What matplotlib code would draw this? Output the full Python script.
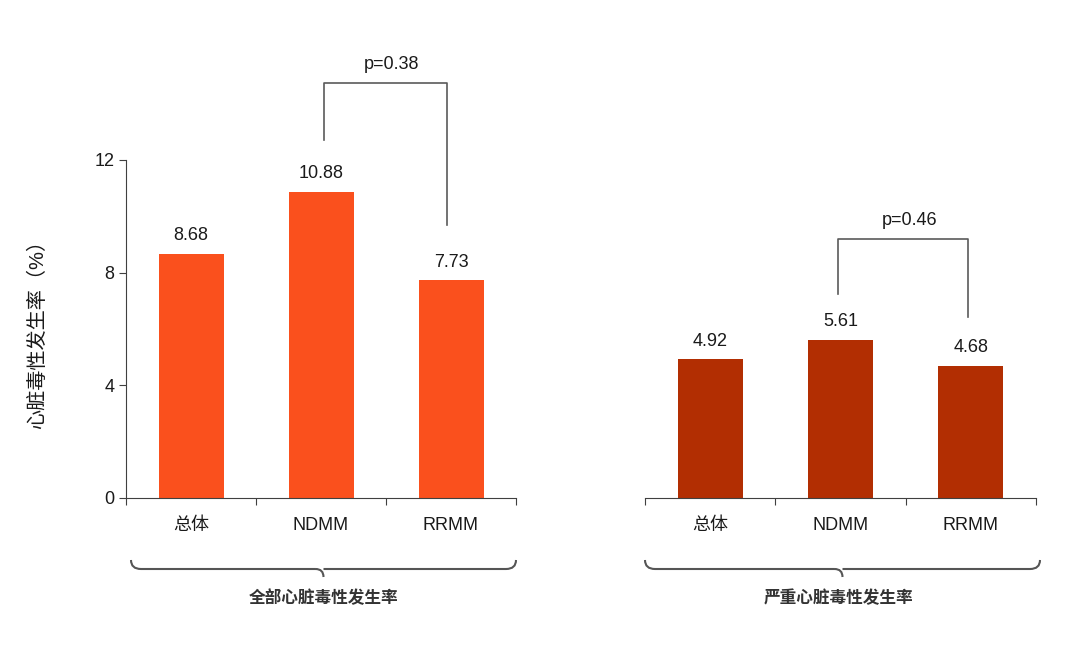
import matplotlib
matplotlib.use("Agg")
import matplotlib.pyplot as plt
from matplotlib.path import Path
from matplotlib.patches import PathPatch

plt.rcParams["font.family"] = ["Liberation Sans", "Noto Sans CJK SC", "DejaVu Sans"]

categories = ["总体", "NDMM", "RRMM"]
all_values = [8.68, 10.88, 7.73]
severe_values = [4.92, 5.61, 4.68]
group_names = ["全部心脏毒性发生率", "严重心脏毒性发生率"]
p_values = ["p=0.38", "p=0.46"]
y_ticks = [0, 4, 8, 12]
y_label = "心脏毒性发生率（%）"

colors = ["#FA501D", "#B22E02"]
line_color = "#404040"
text_color = "#1a1a1a"

W, H = 1080, 649
fig = plt.figure(figsize=(W / 100, H / 100), dpi=100)


def px_box(x0, x1, y_top, y_bot):
    return [x0 / W, 1 - y_bot / H, (x1 - x0) / W, (y_bot - y_top) / H]


ax1 = fig.add_axes(px_box(126, 516, 160, 498))
ax2 = fig.add_axes(px_box(645, 1036, 160, 498))

# bracket: (left x, left bottom y, top y, right x, right bottom y)
for ax, vals, col, ptxt, bracket in [
    (ax1, all_values, colors[0], p_values[0], (1.52, 12.7, 14.73, 2.47, 9.7)),
    (ax2, severe_values, colors[1], p_values[1], (1.48, 7.24, 9.2, 2.48, 6.43)),
]:
    x = [0.5, 1.5, 2.5]
    ax.bar(x, vals, width=0.5, color=col)
    for xi, v in zip(x, vals):
        ax.annotate(f"{v:.2f}", (xi, v), xytext=(0, 7), textcoords="offset points",
                    ha="center", va="bottom", fontsize=13, color=text_color)
    ax.set_xlim(0, 3)
    ax.set_ylim(0, 12)
    ax.set_xticks([0, 1, 2, 3])
    ax.set_xticklabels([])
    ax.set_xticks(x, minor=True)
    ax.set_xticklabels(categories, minor=True, fontsize=13, color=text_color)
    ax.tick_params(axis="x", which="minor", length=0, pad=14)
    ax.tick_params(axis="x", which="major", length=5, color=line_color)
    ax.spines["top"].set_visible(False)
    ax.spines["right"].set_visible(False)
    ax.spines["bottom"].set_color(line_color)
    # significance bracket
    xl, yl, yt, xr, yr = bracket
    ax.plot([xl, xl, xr, xr], [yl, yt, yt, yr], color="#5a5a5a", lw=1.2,
            clip_on=False)
    ax.text((xl + xr) / 2 + 0.05, yt + 0.35, ptxt, ha="center", va="bottom",
            fontsize=13, color=text_color)

ax1.set_yticks(y_ticks)
ax1.tick_params(axis="y", length=5, color=line_color, labelsize=13,
                labelcolor=text_color)
ax1.spines["left"].set_color(line_color)
ax1.set_ylabel(y_label, fontsize=14.5, color=text_color, labelpad=34)

ax2.spines["left"].set_visible(False)
ax2.set_yticks([])


def brace(x0, x1, y_end, y_mid, tip):
    xm = (x0 + x1) / 2
    verts = [(x0, y_end), (x0, y_mid), (x0 + 10, y_mid),
             (xm - 8, y_mid), (xm - 8, y_mid), (xm, y_mid), (xm, tip)]
    verts += [(xm, y_mid), (xm + 8, y_mid), (xm + 8, y_mid),
              (x1 - 10, y_mid), (x1, y_mid), (x1, y_end)]
    codes = [Path.MOVETO, Path.CURVE3, Path.CURVE3,
             Path.LINETO, Path.MOVETO, Path.CURVE3, Path.CURVE3,
             Path.MOVETO, Path.CURVE3, Path.CURVE3,
             Path.LINETO, Path.CURVE3, Path.CURVE3]
    verts = [(vx / W, 1 - vy / H) for vx, vy in verts]
    fig.add_artist(PathPatch(Path(verts, codes), transform=fig.transFigure,
                             fill=False, edgecolor="#555555", lw=1.5))


brace(131, 516, 560, 569, 577)
brace(645, 1040, 560, 569, 577)

fig.text(324 / W, 1 - 598 / H, group_names[0], ha="center", va="center",
         fontsize=12, fontweight="bold", color="#333333")
fig.text(838 / W, 1 - 598 / H, group_names[1], ha="center", va="center",
         fontsize=12, fontweight="bold", color="#333333")

fig.savefig("out.png", dpi=100)
